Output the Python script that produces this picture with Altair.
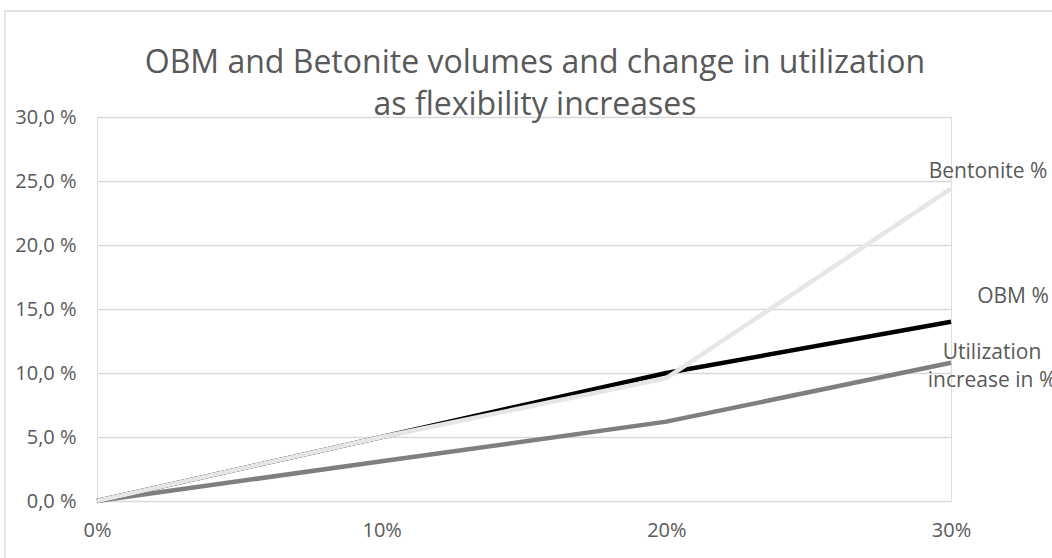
import altair as alt
import pandas as pd

flex = [0, 10, 20, 30]
obm = [0.0, 5.0, 10.0, 14.0]
bentonite = [0.0, 5.0, 9.6, 24.4]
utilization = [0.0, 3.1, 6.2, 10.8]

series_names = ["Utilization increase in %", "OBM %", "Bentonite %"]
series_vals = [utilization, obm, bentonite]
colors = ["#7f7f7f", "#000000", "#e7e6e6"]

rows = []
for order, (name, vals) in enumerate(zip(series_names, series_vals)):
    for x, v in zip(flex, vals):
        rows.append({"flex": x, "value": v, "series": name, "order": order})
df = pd.DataFrame(rows)

FONT = "Open Sans"
TXT = "#595959"

x_enc = alt.X("flex:Q", scale=alt.Scale(domain=[0, 30], nice=False),
              axis=alt.Axis(values=flex, labelExpr="datum.value + '%'", grid=False,
                            domain=False, ticks=False, labelPadding=29, labelFontSize=20,
                            labelFlush=False, labelBaseline="middle",
                            labelColor=TXT, labelFont=FONT, title=None))
y_enc = alt.Y("value:Q", scale=alt.Scale(domain=[0, 30], nice=False),
              axis=alt.Axis(values=[0, 5, 10, 15, 20, 25, 30],
                            labelExpr="replace(format(datum.value, '.1f'), '.', ',') + ' %'",
                            grid=True, gridColor="#d9d9d9", gridWidth=1.3, domain=False, ticks=False,
                            labelPadding=21, labelFontSize=20, labelColor=TXT, labelFont=FONT,
                            title=None))

lines = []
for order, (name, col) in enumerate(zip(series_names, colors)):
    lines.append(
        alt.Chart(df[df.series == name]).mark_line(strokeWidth=4.5, color=col, strokeCap="butt")
        .encode(x=x_enc, y=y_enc, order="flex:Q")
    )

ends = pd.DataFrame({
    "flex": [30, 30, 30],
    "value": [bentonite[-1], obm[-1], utilization[-1]],
    "label": [["Bentonite %"], ["OBM %"], ["Utilization", "increase in %"]],
})

common = dict(font=FONT, fontSize=21, color=TXT, align="center", baseline="middle")
lab_bent = alt.Chart(ends.iloc[[0]]).mark_text(dx=37, dy=-17, **common).encode(
    x="flex:Q", y="value:Q", text="label")
lab_obm = alt.Chart(ends.iloc[[1]]).mark_text(dx=62, dy=-25, **common).encode(
    x="flex:Q", y="value:Q", text="label")
lab_util = alt.Chart(ends.iloc[[2]]).mark_text(dx=41, dy=-10, lineHeight=28, **common).encode(
    x="flex:Q", y="value:Q", text="label")

border = alt.Chart(pd.DataFrame({"a": [0]})).mark_rect(fill=None, stroke="#d9d9d9", strokeWidth=1.3).encode(
    x=alt.value(-92), x2=alt.value(1100), y=alt.value(-106), y2=alt.value(600))

chart = alt.layer(border, *lines, lab_bent, lab_obm, lab_util).properties(
    width=854, height=384,
    title=alt.TitleParams(
        text=["OBM and Betonite volumes and change in utilization", "as flexibility increases"],
        fontSize=32, font=FONT, color=TXT, fontWeight="normal", lineHeight=42,
        anchor="middle", offset=6, dy=118, dx=11),
    padding={"left": 97, "top": 117, "right": 101, "bottom": 57},
    autosize=alt.AutoSizeParams(type="none"),
).configure_view(strokeWidth=0, stroke="transparent").configure(background="white")

chart.save("out.html", embed_options={"renderer": "svg", "actions": False})
